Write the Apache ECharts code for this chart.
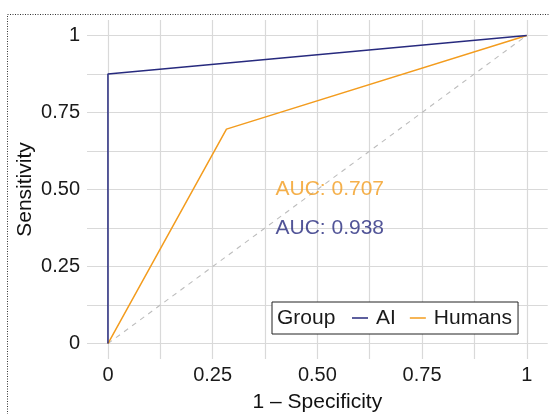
<!DOCTYPE html>
<html>
<head>
<meta charset="utf-8">
<script src="https://cdn.jsdelivr.net/npm/echarts@6/dist/echarts.min.js"></script>
<style>
html,body{margin:0;padding:0;background:#fff;}
#chart{width:550px;height:414px;}
</style>
</head>
<body>
<div id="chart"></div>
<script>
// ---- data ----
const groups = ['AI', 'Humans'];
const aiFPR = [0, 0, 1];
const aiTPR = [0, 0.875, 1];
const humFPR = [0, 0.283, 1];
const humTPR = [0, 0.696, 1];
const diagX = [0, 1];
const diagY = [0, 1];
const gridValues = [0, 0.125, 0.25, 0.375, 0.5, 0.625, 0.75, 0.875, 1];
const tickValues = [0, 0.25, 0.5, 0.75, 1];
const xTickLabels = ['0', '0.25', '0.50', '0.75', '1'];
const yTickLabels = ['0', '0.25', '0.50', '0.75', '1'];
const annotX = [0.4, 0.4];
const annotY = [0.5, 0.375];
const annotText = ['AUC: 0.707', 'AUC: 0.938'];
const xTitle = '1 \u2013 Specificity';
const yTitle = 'Sensitivity';
const legendTitle = 'Group';

// ---- styles ----
const FONT = '"Liberation Sans", Arial, Helvetica, sans-serif';
const colAI = '#272a7e';
const colHum = '#F39C1E';
const gridCol = '#d9d9d9';

function zip(a, b) { return a.map((v, i) => [v, b[i]]); }
function labelFor(vals, labels) {
  return function (v) {
    for (let i = 0; i < vals.length; i++) if (Math.abs(vals[i] - v) < 1e-9) return labels[i];
    return '';
  };
}

const chart = echarts.init(document.getElementById('chart'), null, { renderer: 'canvas' });
const option = {
  animation: false,
  backgroundColor: '#fff',
  grid: { left: 87, right: 2.3, top: 20, bottom: 55, containLabel: false, outerBoundsMode: 'none' },
  xAxis: {
    type: 'value', min: -0.05, max: 1.05,
    axisLine: { show: false },
    axisTick: { show: false, customValues: gridValues },
    axisLabel: { customValues: tickValues, formatter: labelFor(tickValues, xTickLabels), fontSize: 20, color: '#1a1a1a', fontFamily: FONT, margin: 6 },
    splitLine: { show: true, lineStyle: { color: gridCol, width: 1.2 } },
    name: xTitle, nameLocation: 'middle', nameGap: 33, nameMoveOverlap: false,
    nameTextStyle: { fontSize: 21, color: '#111', fontFamily: FONT }
  },
  yAxis: {
    type: 'value', min: -0.05, max: 1.05,
    axisLine: { show: false },
    axisTick: { show: false, customValues: gridValues },
    axisLabel: { customValues: tickValues, formatter: labelFor(tickValues, yTickLabels), fontSize: 20, color: '#1a1a1a', fontFamily: FONT, margin: 7, padding: [4, 0, 0, 0] },
    splitLine: { show: true, lineStyle: { color: gridCol, width: 1.2 } },
    name: yTitle, nameLocation: 'middle', nameGap: 51, nameRotate: 90, nameMoveOverlap: false,
    nameTextStyle: { fontSize: 21, color: '#111', fontFamily: FONT }
  },
  legend: {
    data: groups,
    left: 272, top: 302,
    orient: 'horizontal',
    padding: [4, 6, 4, 80],
    itemGap: 14, itemWidth: 16, itemHeight: 1.5,
    icon: 'rect',
    borderColor: '#222', borderWidth: 1, borderRadius: 0,
    backgroundColor: '#fff',
    textStyle: { fontSize: 21, lineHeight: 24, color: '#1a1a1a', fontFamily: FONT, padding: [0, 0, 0, 3] },
    selectedMode: false
  },
  graphic: [
    { type: 'text', z: 100, left: 277, top: 308,
      style: { text: legendTitle, fontSize: 21, fill: '#1a1a1a', fontFamily: FONT } },
    { type: 'rect', z: 100, silent: true,
      shape: { x: 7.5, y: 14.5, width: 600, height: 500 },
      style: { fill: 'none', stroke: '#333', lineWidth: 1, lineDash: [1, 1.5] } }
  ],
  series: [
    { name: 'diag', type: 'line', data: zip(diagX, diagY), symbol: 'none', silent: true,
      lineStyle: { color: '#bdbdbd', width: 1.1, type: [5, 5] }, z: 1 },
    { name: 'AI', type: 'line', data: zip(aiFPR, aiTPR), symbol: 'none', color: colAI,
      lineStyle: { color: colAI, width: 1.5 }, z: 3 },
    { name: 'Humans', type: 'line', data: zip(humFPR, humTPR), symbol: 'none', color: colHum,
      lineStyle: { color: colHum, width: 1.5 }, z: 2 },
    { name: 'annot', type: 'scatter', symbolSize: 0, silent: true, z: 5,
      data: annotX.map((x, i) => ({
        value: [x, annotY[i]],
        label: { show: true, position: 'right', distance: 0, formatter: annotText[i],
          fontSize: 21, fontFamily: FONT, color: i === 0 ? colHum : colAI }
      }))
    }
  ]
};
chart.setOption(option);
</script>
</body>
</html>
